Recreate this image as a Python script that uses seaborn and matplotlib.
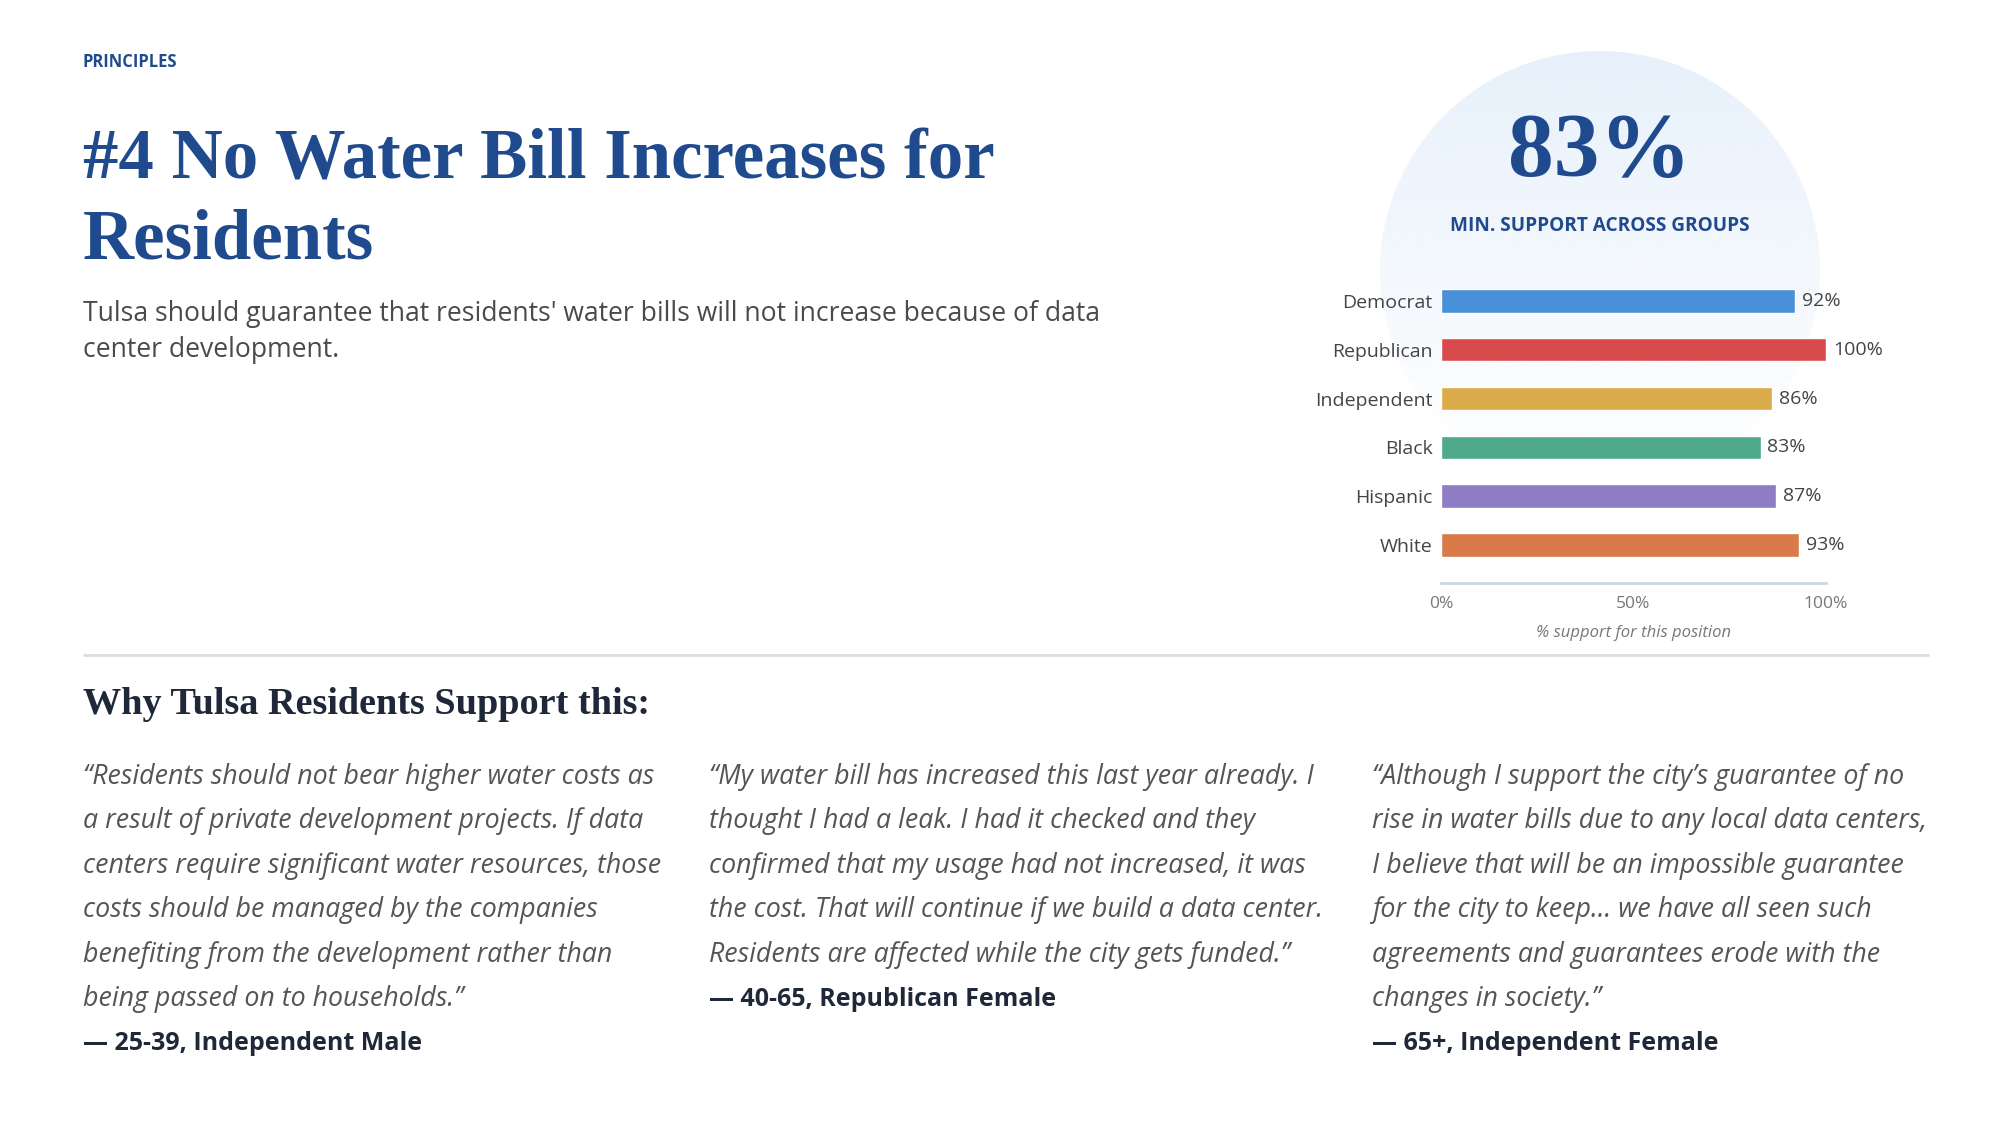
import numpy as np
import pandas as pd
import matplotlib
matplotlib.use("Agg")
import matplotlib.pyplot as plt
from matplotlib.patches import Circle
import seaborn as sns

# ---------------- data ----------------
groups = ["Democrat", "Republican", "Independent", "Black", "Hispanic", "White"]
support = [92, 100, 86, 83, 87, 93]
bar_colors = ["#4a90d9", "#d94a4c", "#dbaa4a", "#4faa8c", "#8e7cc4", "#d97a4a"]
x_ticks = [0, 50, 100]
x_tick_labels = ["0%", "50%", "100%"]
headline_value = "83%"
headline_label = "MIN. SUPPORT ACROSS GROUPS"
axis_label = "% support for this position"

kicker = "PRINCIPLES"
title_lines = ["#4 No Water Bill Increases for", "Residents"]
subtitle_lines = [
    "Tulsa should guarantee that residents' water bills will not increase because of data",
    "center development.",
]
section_heading = "Why Tulsa Residents Support this:"
quotes = [
    ["\u201cResidents should not bear higher water costs as",
     "a result of private development projects. If data",
     "centers require significant water resources, those",
     "costs should be managed by the companies",
     "benefiting from the development rather than",
     "being passed on to households.\u201d"],
    ["\u201cMy water bill has increased this last year already. I",
     "thought I had a leak. I had it checked and they",
     "confirmed that my usage had not increased, it was",
     "the cost. That will continue if we build a data center.",
     "Residents are affected while the city gets funded.\u201d"],
    ["\u201cAlthough I support the city\u2019s guarantee of no",
     "rise in water bills due to any local data centers,",
     "I believe that will be an impossible guarantee",
     "for the city to keep\u2026 we have all seen such",
     "agreements and guarantees erode with the",
     "changes in society.\u201d"],
]
attributions = ["\u2014 25-39, Independent Male",
                "\u2014 40-65, Republican Female",
                "\u2014 65+, Independent Female"]

# ---------------- style ----------------
sns.set_theme(style="white")
plt.rcParams["font.family"] = ["Open Sans", "DejaVu Sans"]

BLUE = "#1f4b8e"
NAVY = "#1e2838"
GRAY = "#4a4a4a"
QGRAY = "#555555"
SERIF = ["Liberation Serif", "DejaVu Serif"]

W, H = 2000, 1125
fig = plt.figure(figsize=(20, 11.25), dpi=100)
fig.patch.set_facecolor("white")

# background axes in pixel coordinates
bg = fig.add_axes([0, 0, 1, 1])
bg.set_xlim(0, W)
bg.set_ylim(H, 0)
bg.axis("off")

# soft circle behind the headline
cx, cy, r = 1600, 271, 220
grad = np.linspace(0, 1, 256)[:, None]
rgba = np.zeros((256, 1, 4))
base = matplotlib.colors.to_rgb("#e6f0fb")
rgba[..., 0], rgba[..., 1], rgba[..., 2] = base
rgba[..., 3] = np.clip(1.0 - grad * 1.05, 0, 1) * 0.95
img = bg.imshow(rgba, extent=(cx - r, cx + r, cy + r, cy - r), aspect="auto",
                interpolation="bilinear", zorder=0)
circ = Circle((cx, cy), r, transform=bg.transData, facecolor="none", edgecolor="none")
bg.add_patch(circ)
img.set_clip_path(circ)
bg.set_xlim(0, W)
bg.set_ylim(H, 0)

# header texts
bg.text(83, 62, kicker, fontsize=11.9, fontweight="bold", color=BLUE, va="center", ha="left")
bg.text(83, 161, title_lines[0], fontsize=51, fontweight="bold", color=BLUE,
        family=SERIF, va="center", ha="left")
bg.text(83, 241, title_lines[1], fontsize=51, fontweight="bold", color=BLUE,
        family=SERIF, va="center", ha="left")
bg.text(83, 314, subtitle_lines[0], fontsize=19.1, color=GRAY, va="center", ha="left")
bg.text(83, 350, subtitle_lines[1], fontsize=19.1, color=GRAY, va="center", ha="left")

# headline number
bg.text(cx, 154, headline_value, fontsize=66, fontweight="bold", color=BLUE,
        family=SERIF, va="center", ha="center")
bg.text(cx, 226, headline_label, fontsize=13.7, fontweight="bold", color=BLUE,
        va="center", ha="center")

# divider
bg.plot([83, 1929], [655, 655], color="#dddddd", lw=2, solid_capstyle="butt")

# section heading
bg.text(83, 704, section_heading, fontsize=27.5, fontweight="bold", color=NAVY,
        family=SERIF, va="center", ha="left")

# quotes
col_x = [83, 709, 1372]
y0, dy = 777, 44.4
for qi, (lines, attr) in enumerate(zip(quotes, attributions)):
    for li, line in enumerate(lines):
        bg.text(col_x[qi], y0 + li * dy, line, fontsize=19.3, fontstyle="italic",
                color=QGRAY, va="center", ha="left")
    bg.text(col_x[qi], y0 + len(lines) * dy, attr, fontsize=18, fontweight="bold",
            color=NAVY, va="center", ha="left")

# ---------------- bar chart ----------------
ax_left, ax_right = 1441, 1826
ax_top, ax_bottom = 276.6, 583
ax = fig.add_axes([ax_left / W, 1 - ax_bottom / H,
                   (ax_right - ax_left) / W, (ax_bottom - ax_top) / H])
ax.set_facecolor("none")

df = pd.DataFrame({"group": groups, "support": support})
sns.barplot(data=df, x="support", y="group", hue="group", palette=bar_colors,
            order=groups, hue_order=groups, legend=False, width=0.48,
            saturation=1, ax=ax, orient="h")
for cont in ax.containers:
    ax.bar_label(cont, labels=[f"{v:.0f}%" for v in cont.datavalues], padding=5,
                 fontsize=14, color="#444444")

ax.set_xlim(0, 100)
ax.set_ylim(5.78, -0.5)
ax.set_xticks(x_ticks)
ax.set_xticklabels(x_tick_labels)
ax.tick_params(axis="x", length=0, labelsize=12.5, labelcolor="#777777", pad=9)
ax.tick_params(axis="y", length=0, labelsize=14, labelcolor="#444444", pad=6)
ax.set_ylabel("")
ax.set_xlabel(axis_label, fontsize=12, fontstyle="italic", color="#777777", labelpad=10)
for s in ["top", "right", "left"]:
    ax.spines[s].set_visible(False)
ax.spines["bottom"].set_color("#c9d7e6")
ax.spines["bottom"].set_linewidth(2)
ax.grid(False)

fig.savefig("out.png", dpi=100, facecolor="white")
